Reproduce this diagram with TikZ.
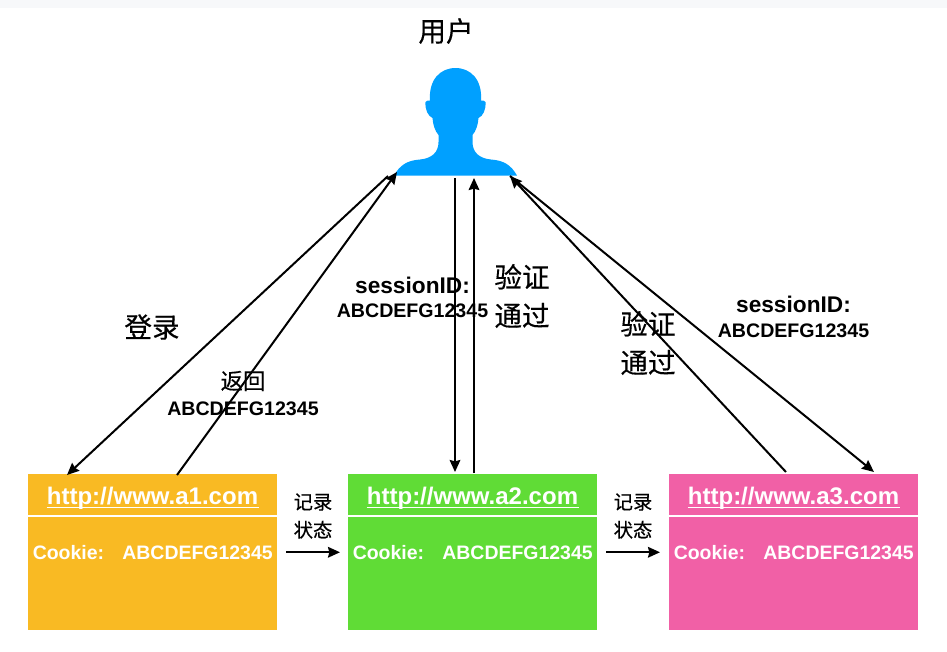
\documentclass[tikz,border=0pt]{standalone}
\usepackage{fontspec}
\setmainfont{Liberation Sans}
\newfontfamily\cjk[FakeBold=0.35]{Noto Sans CJK SC}
\usetikzlibrary{arrows.meta}
\definecolor{userblue}{HTML}{00A0FF}
\definecolor{boxorange}{HTML}{F9BA23}
\definecolor{boxgreen}{HTML}{60DC36}
\definecolor{boxpink}{HTML}{F160A6}
\definecolor{topstrip}{HTML}{F7F8FA}
\tikzset{
  x=0.75pt,y=-0.75pt,
  site/.style={fill=#1,draw=none,minimum width=186.7pt,minimum height=117pt,inner sep=0pt,anchor=north west},
  urltext/.style={text=white,font=\fontsize{18}{20}\selectfont\bfseries,inner sep=0pt,anchor=base},
  cookietext/.style={text=white,font=\fontsize{14.6}{17}\selectfont\bfseries,inner sep=0pt},
  idtext/.style={text=black,font=\fontsize{14.7}{16}\selectfont\bfseries,inner sep=0pt,align=center},
  sidtext/.style={text=black,font=\fontsize{17}{20}\selectfont\bfseries,inner sep=0pt},
  cjkbig/.style={text=black,font=\fontsize{20.7}{29}\selectfont\cjk,inner sep=0pt,align=center},
  cjkmid/.style={text=black,font=\fontsize{16.8}{20}\selectfont\cjk,inner sep=0pt,align=center},
  cjksmall/.style={text=black,font=\fontsize{14.5}{21}\selectfont\cjk,inner sep=0pt,align=center},
  link/.style={draw=black,line width=1.5pt,-{Stealth[length=9pt,width=8pt,inset=1pt]}},
}
\newcommand{\sitebox}[4]{%
  \node[site=#2] (#1) at (#3,474) {};
  \draw[white,line width=1.6pt] (#3,515.6) -- ++(249,0);
  \node[urltext] (#1url) at (#3+124.5,504) {http://www.#4.com};
  \draw[white,line width=0.9pt] (#3+18.5,507.3) -- ++(212,0);
  \node[cookietext,anchor=west] (#1ck) at (#3+4.5,553) {Cookie:};
  \node[cookietext,anchor=east] (#1val) at (#3+245,553) {ABCDEFG12345};
}
\begin{document}
\begin{tikzpicture}
\useasboundingbox (0,0) rectangle (947,651);
\fill[white] (0,0) rectangle (947,651);
\fill[topstrip] (0,0) rectangle (947,8);
% user silhouette
\fill[userblue] (394,175.5)
  .. controls (400,165) and (407,160.5) .. (420,159.5)
  .. controls (432,158.5) and (438.5,152) .. (438.5,142)
  -- (438.5,135)
  .. controls (435,131) and (433,125) .. (432.5,118)
  .. controls (428,116) and (425,110) .. (425.5,102)
  .. controls (426.5,100.5) and (428,100.5) .. (430,100.5)
  .. controls (428.5,80) and (440,68) .. (455.5,68)
  .. controls (471,68) and (482.5,80) .. (481,100.5)
  .. controls (483,100.5) and (484.5,100.5) .. (485.5,102)
  .. controls (486,110) and (483,116) .. (478.5,118)
  .. controls (478,125) and (476,131) .. (472.5,135)
  -- (472.5,142)
  .. controls (472.5,152) and (479,158.5) .. (491,159.5)
  .. controls (504,160.5) and (511,165) .. (517,175.5) -- cycle;
\coordinate (userLL) at (388,176);
\coordinate (userL) at (397,172);
\coordinate (userM1) at (455,178);
\coordinate (userM2) at (474,178);
\coordinate (userR) at (510,176);
\node[cjkbig] (title) at (446,31) {用户};
\sitebox{aone}{boxorange}{28}{a1}
\sitebox{atwo}{boxgreen}{348}{a2}
\sitebox{athree}{boxpink}{669}{a3}
\coordinate (a1in) at (67,475);
\coordinate (a1out) at (177,475);
\coordinate (a2in) at (455,472);
\coordinate (a2out) at (474,473);
\coordinate (a3out) at (786,472);
\coordinate (a3in) at (874,472);
\draw[link] (userLL) -- (a1in);
\draw[link] (a1out) -- (userL);
\draw[link] (userM1) -- (a2in);
\draw[link] (a2out) -- (userM2);
\draw[link] (a3out) -- (userR);
\draw[link] (userR) -- (a3in);
\draw[link] ([xshift=6.75pt]aone.east) -- ([xshift=-6pt]atwo.west);
\draw[link] ([xshift=6.75pt]atwo.east) -- ([xshift=-6.75pt]athree.west);
\node[cjkbig] (login) at (152,327) {登录};
\node[cjkmid] (ret) at (243,381) {返回};
\node[idtext] (retid) at (243,409) {ABCDEFG12345};
\node[sidtext] (sid1a) at (412.5,285) {sessionID:};
\node[idtext] (sid1b) at (412.5,310.5) {ABCDEFG12345};
\node[cjkbig] (ok1) at (522,296) {验证\\通过};
\node[cjkbig] (ok2) at (648,343) {验证\\通过};
\node[sidtext] (sid2a) at (793.5,304.5) {sessionID:};
\node[idtext] (sid2b) at (793.5,330.5) {ABCDEFG12345};
\node[cjksmall] (rec1) at (313,516) {记录\\状态};
\node[cjksmall] (rec2) at (633,516) {记录\\状态};
\end{tikzpicture}
\end{document}
